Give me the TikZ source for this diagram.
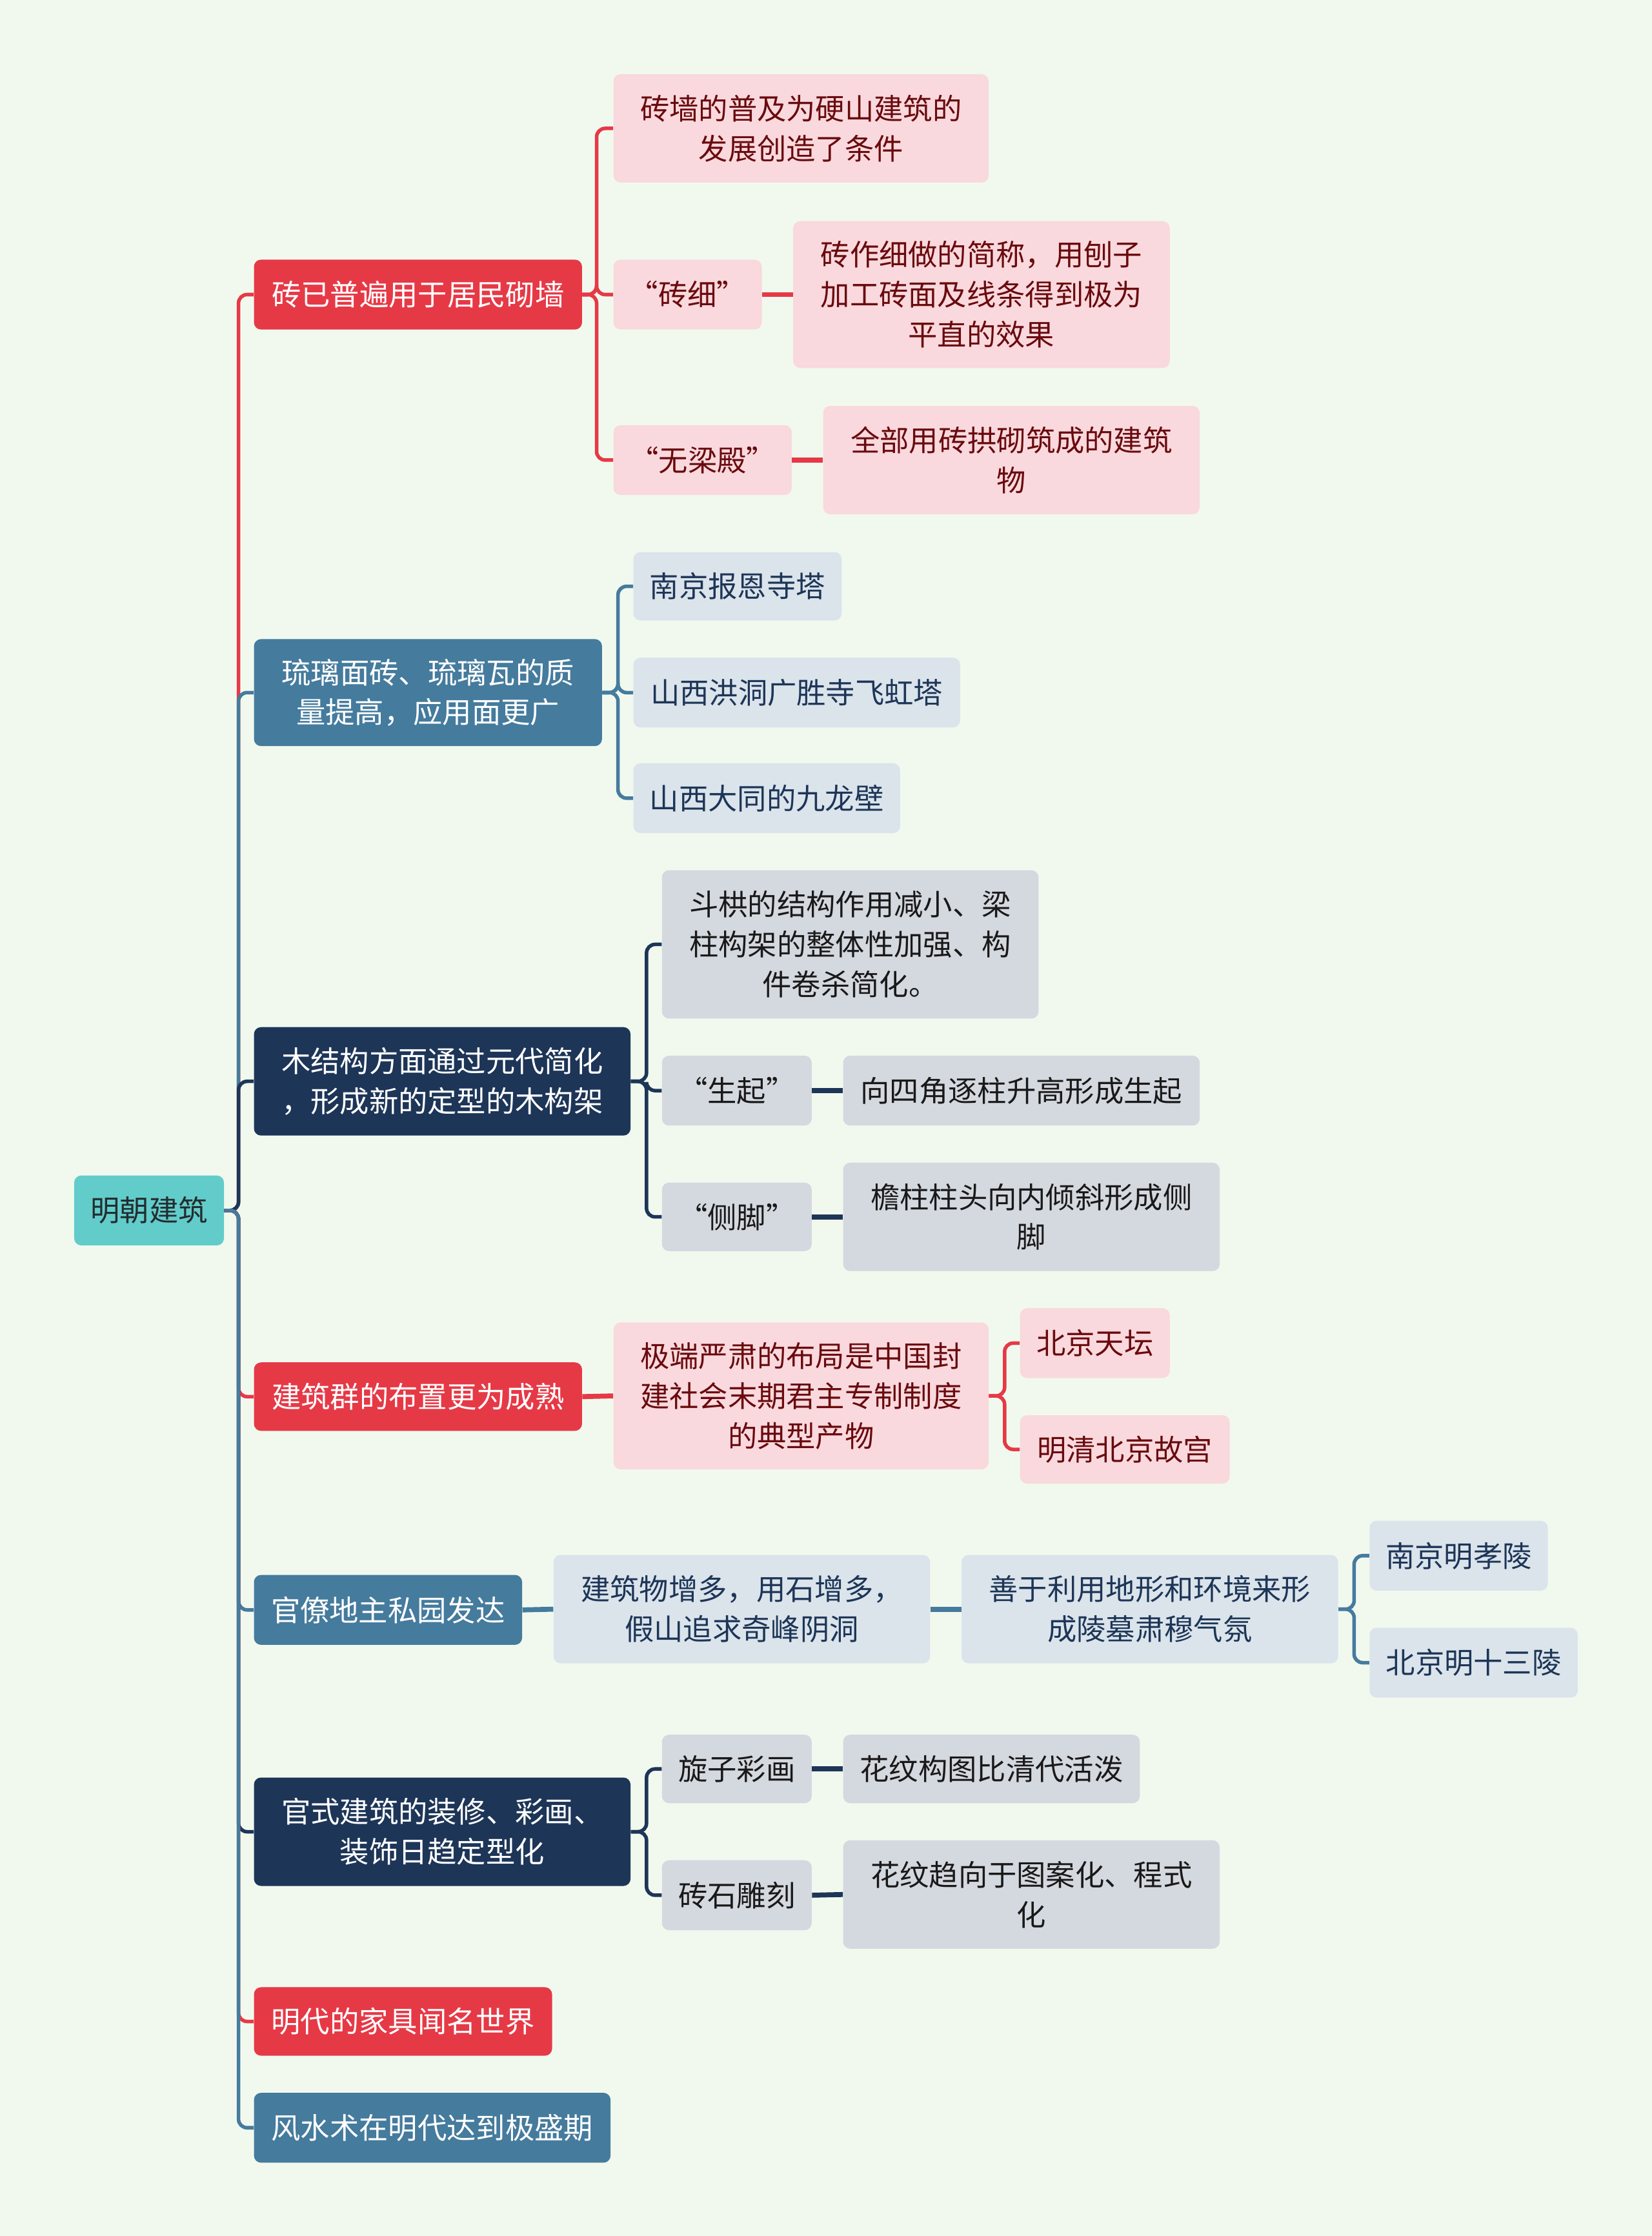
\documentclass[tikz,border=0pt]{standalone}
\usepackage{fontspec}
\newfontfamily\cjk{Noto Sans CJK SC}
\usetikzlibrary{positioning}
\definecolor{bgmint}{HTML}{F1F9EF}
\definecolor{mingteal}{HTML}{62CCCB}
\definecolor{mingred}{HTML}{E63946}
\definecolor{mingsteel}{HTML}{457B9D}
\definecolor{mingnavy}{HTML}{1D3557}
\definecolor{mingpink}{HTML}{F9D9DD}
\definecolor{mingmaroon}{HTML}{6A0A0E}
\definecolor{mingmist}{HTML}{DBE4EB}
\definecolor{minggray}{HTML}{D4D8DF}
\definecolor{mingink}{HTML}{232D2E}
\tikzset{
  % knoten
  nd/.style={rounded corners=5pt,inner sep=0pt,align=center,
             font=\cjk\fontsize{20.5}{28}\selectfont},
  rt/.style={nd,fill=mingteal,text=mingink},
  hr/.style={nd,fill=mingred,text=white},
  hb/.style={nd,fill=mingsteel,text=white},
  hn/.style={nd,fill=mingnavy,text=white},
  lp/.style={nd,fill=mingpink,text=mingmaroon},
  lb/.style={nd,fill=mingmist,text=mingnavy},
  lg/.style={nd,fill=minggray,text=black!90},
  sz/.style 2 args={minimum width=#1,minimum height=#2},
  % kanten
  er/.style={draw=mingred,line width=2.5pt,rounded corners=6pt},
  eb/.style={draw=mingsteel,line width=2.5pt,rounded corners=6pt},
  en/.style={draw=mingnavy,line width=2.5pt,rounded corners=6pt},
  wide/.style={line width=3.5pt,rounded corners=0pt},
}
\begin{document}
\begin{tikzpicture}[x=1pt,y=-1pt]
  \fill[bgmint] (0,0) rectangle (1158,1567.4);

  \node[rt,sz={105}{49}] (root) at (104.5,848.5) {明朝建筑};

  \node[hr,sz={230}{49}] (b1) at (293,206.5) {砖已普遍用于居民砌墙};
  \node[hb,sz={244}{75}] (b2) at (300,485.5) {琉璃面砖、琉璃瓦的质\\量提高，应用面更广};
  \node[hn,sz={264}{76}] (b3) at (310,758) {木结构方面通过元代简化\\，形成新的定型的木构架};
  \node[hr,sz={230}{48}] (b4) at (293,979) {建筑群的布置更为成熟};
  \node[hb,sz={188}{49}] (b5) at (272,1128.5) {官僚地主私园发达};
  \node[hn,sz={264}{76}] (b6) at (310,1284) {官式建筑的装修、彩画、\\装饰日趋定型化};
  \node[hr,sz={209}{48}] (b7) at (282.5,1417) {明代的家具闻名世界};
  \node[hb,sz={250}{49}] (b8) at (303,1491.5) {风水术在明代达到极盛期};

  % zweig 1
  \node[lp,sz={263}{76}] (a1) at (561.5,90) {砖墙的普及为硬山建筑的\\发展创造了条件};
  \node[lp,sz={104}{49}] (a2) at (482,206.5) {“砖细”};
  \node[lp,sz={125}{49}] (a3) at (492.5,322.5) {“无梁殿”};
  \node[lp,sz={264}{103}] (a2x) at (688,206.5) {砖作细做的简称，用刨子\\加工砖面及线条得到极为\\平直的效果};
  \node[lp,sz={264}{76}] (a3x) at (709,322.5) {全部用砖拱砌筑成的建筑\\物};

  % zweig 2
  \node[lb,sz={146}{48}] (g1) at (517,411) {南京报恩寺塔};
  \node[lb,sz={229}{49}] (g2) at (558.5,485.5) {山西洪洞广胜寺飞虹塔};
  \node[lb,sz={187}{49}] (g3) at (537.5,559.5) {山西大同的九龙壁};

  % zweig 3
  \node[lg,sz={264}{104}] (m1) at (596,662) {斗栱的结构作用减小、梁\\柱构架的整体性加强、构\\件卷杀简化。};
  \node[lg,sz={105}{49}] (m2) at (516.5,764.5) {“生起”};
  \node[lg,sz={105}{48}] (m3) at (516.5,853) {“侧脚”};
  \node[lg,sz={250}{49}] (m2x) at (716,764.5) {向四角逐柱升高形成生起};
  \node[lg,sz={264}{76}] (m3x) at (723,853) {檐柱柱头向内倾斜形成侧\\脚};

  % zweig 4
  \node[lp,sz={263}{103}] (j1) at (561.5,978.5) {极端严肃的布局是中国封\\建社会末期君主专制制度\\的典型产物};
  \node[lp,sz={105}{49}] (j1a) at (767.5,941.5) {北京天坛};
  \node[lp,sz={147}{48}] (j1b) at (788.5,1016) {明清北京故宫};

  % zweig 5
  \node[lb,sz={264}{76}] (y1) at (520,1128) {建筑物增多，用石增多，\\假山追求奇峰阴洞};
  \node[lb,sz={264}{76}] (y2) at (806,1128) {善于利用地形和环境来形\\成陵墓肃穆气氛};
  \node[lb,sz={125}{49}] (y2a) at (1022.5,1090.5) {南京明孝陵};
  \node[lb,sz={146}{49}] (y2b) at (1033,1165.5) {北京明十三陵};

  % zweig 6
  \node[lg,sz={105}{48}] (d1) at (516.5,1240) {旋子彩画};
  \node[lg,sz={105}{49}] (d2) at (516.5,1328.5) {砖石雕刻};
  \node[lg,sz={208}{48}] (d1x) at (695,1240) {花纹构图比清代活泼};
  \node[lg,sz={264}{76}] (d2x) at (723,1328) {花纹趋向于图案化、程式\\化};

  % stamm
  \draw[er] (root.east) -- ++(10,0) |- (b1.west);
  \draw[eb] (root.east) -- ++(10,0) |- (b2.west);
  \draw[en] (root.east) -- ++(10,0) |- (b3.west);
  \draw[er] (root.east) -- ++(10,0) |- (b4.west);
  \draw[eb] (root.east) -- ++(10,0) |- (b5.west);
  \draw[en] (root.east) -- ++(10,0) |- (b6.west);
  \draw[er] (root.east) -- ++(10,0) |- (b7.west);
  \draw[eb] (root.east) -- ++(10,0) |- (b8.west);

  \foreach \c in {a1,a2,a3} \draw[er] (b1.east) -- ++(10,0) |- (\c.west);
  \draw[er,wide] (a2.east) -- (a2x.west);
  \draw[er,wide] (a3.east) -- (a3x.west);

  \foreach \c in {g1,g2,g3} \draw[eb] (b2.east) -- ++(11,0) |- (\c.west);

  \foreach \c in {m1,m2,m3} \draw[en] (b3.east) -- ++(11,0) |- (\c.west);
  \draw[en,wide] (m2.east) -- (m2x.west);
  \draw[en,wide] (m3.east) -- (m3x.west);

  \draw[er,wide] (b4.east) -- (j1.west);
  \foreach \c in {j1a,j1b} \draw[er] (j1.east) -- ++(11,0) |- (\c.west);

  \draw[eb,wide] (b5.east) -- (y1.west);
  \draw[eb,wide] (y1.east) -- (y2.west);
  \foreach \c in {y2a,y2b} \draw[eb] (y2.east) -- ++(11,0) |- (\c.west);

  \foreach \c in {d1,d2} \draw[en] (b6.east) -- ++(11,0) |- (\c.west);
  \draw[en,wide] (d1.east) -- (d1x.west);
  \draw[en,wide] (d2.east) -- (d2x.west);
\end{tikzpicture}
\end{document}
